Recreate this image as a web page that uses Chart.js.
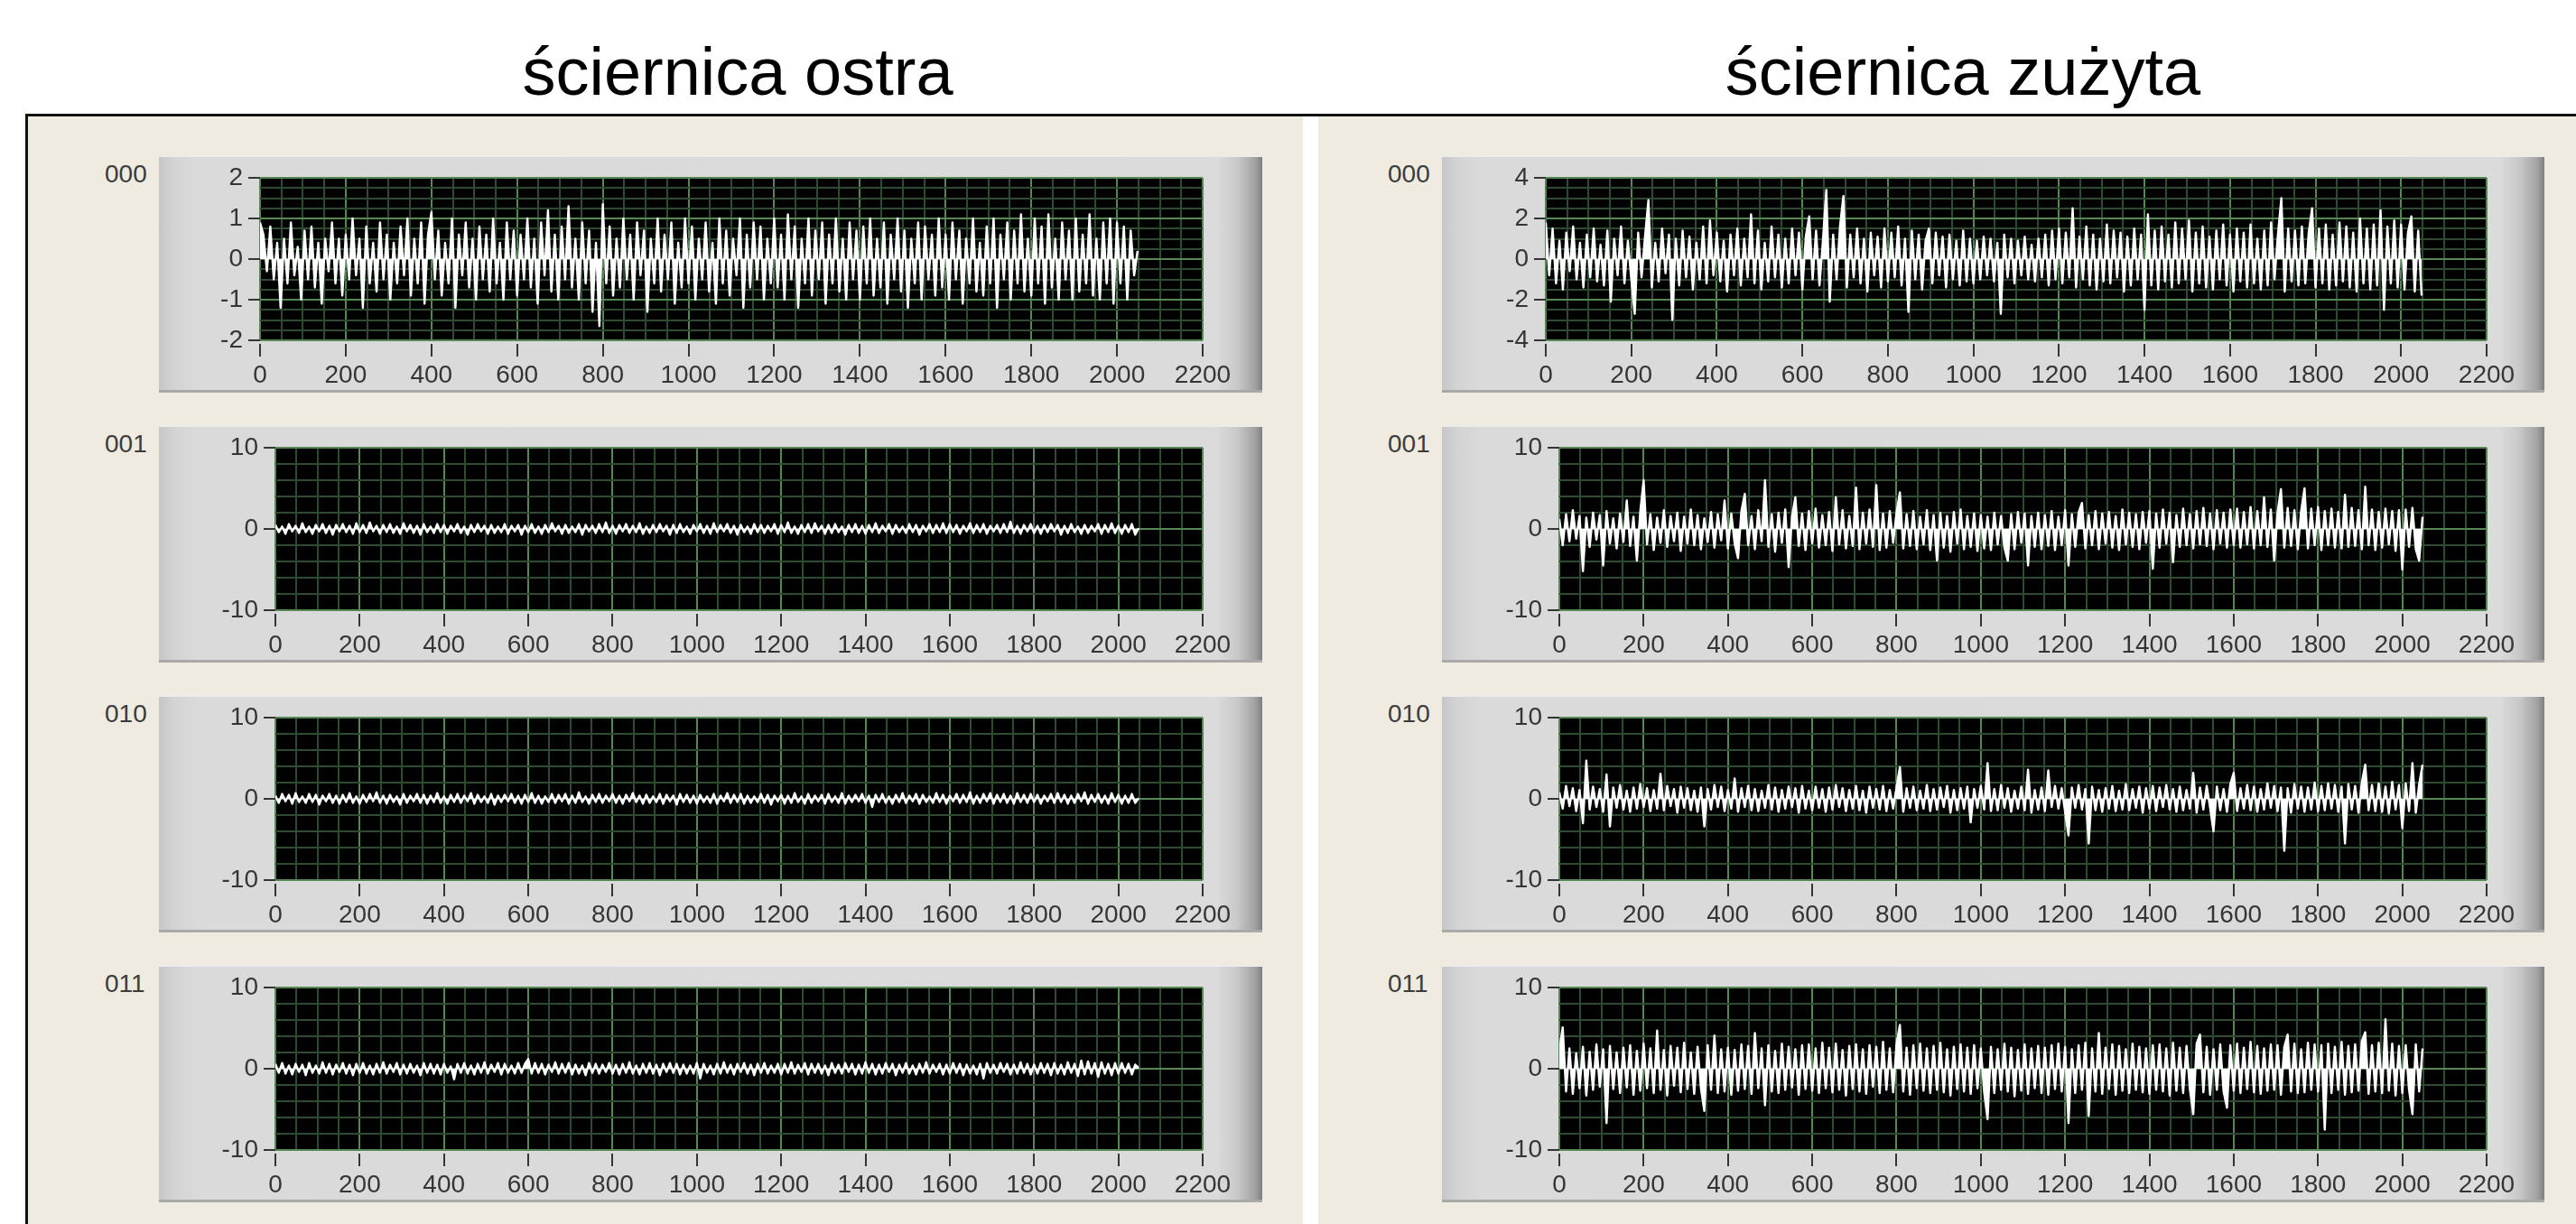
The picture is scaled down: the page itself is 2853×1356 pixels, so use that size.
<!DOCTYPE html>
<html lang="pl">
<head>
<meta charset="utf-8">
<title>ściernica ostra / ściernica zużyta</title>
<script src="https://cdn.jsdelivr.net/npm/chart.js@4.4.1/dist/chart.umd.min.js"></script>
<style>
  html, body { margin: 0; padding: 0; background: #fff; }
  body { width: 2853px; height: 1356px; position: relative; overflow: hidden; font-family: "Liberation Sans", Arial, sans-serif; }
  .title { position: absolute; top: 43px; font-size: 74px; line-height: 1; color: #000; transform: translateX(-50%); white-space: nowrap; }
  .rule { position: absolute; background: #111; }
  .panel { position: absolute; top: 129px; height: 1227px; background: #efebe0; }
  .scope {
    position: absolute; height: 263px; box-sizing: border-box;
    background: linear-gradient(to right, #c6c6c6 0px, #d3d3d3 16px, #dadada 44px, #dbdbdb calc(100% - 50px), #c9c9c9 calc(100% - 28px), #a2a2a2 calc(100% - 8px), #7f7f7f 100%);
    box-shadow: inset 0 2px 0 #ececec, inset 0 -3px 0 #a9a9a9;
  }
  .scope canvas { position: absolute; left: 0; top: 0; }
  .channel { position: absolute; font-size: 28px; line-height: 1; color: #3c3c3c; }
</style>
</head>
<body>
<div class="title" style="left:817px">ściernica ostra</div>
<div class="title" style="left:2174px">ściernica zużyta</div>
<div class="rule" style="left:28px;top:126px;width:2825px;height:3px"></div>
<div class="rule" style="left:28px;top:126px;width:3px;height:1230px"></div>
<div class="panel" style="left:31px;width:1412px"></div>
<div class="panel" style="left:1460px;width:1393px"></div>
<div id="scopes"></div>

<script>
// one value every 8 samples, 2048 samples per record
const sampleStep = 8;

const channelNames = ['000', '001', '010', '011'];
const xTickLabels = ['0', '200', '400', '600', '800', '1000', '1200', '1400', '1600', '1800', '2000', '2200'];
const sharpYTicks = [['-2', '-1', '0', '1', '2'], ['-10', '0', '10'], ['-10', '0', '10'], ['-10', '0', '10']];
const wornYTicks = [['-4', '-2', '0', '2', '4'], ['-10', '0', '10'], ['-10', '0', '10'], ['-10', '0', '10']];

// ściernica ostra
const sharp000 = [
  0.9, 0.6, -0.3, 0.8, -0.5, 0.4, -1.2, 0.5, -0.6, 0.9, -0.4, 0.3, -1.0, 0.7, -0.5, 0.8, -0.7, 0.4, -1.1, 0.5, -0.3, 0.9, -0.6, 0.5, -0.9,
  0.6, -0.5, 1.0, -0.4, 0.5, -1.2, 0.8, -0.6, 0.4, -0.8, 0.9, -0.5, 0.6, -1.0, 0.4, -0.6, 0.8, -0.4, 1.0, -0.9, 0.5, -0.6, 0.9, -1.1, 0.6,
  1.15, -0.5, 0.7, -0.9, 0.4, -0.6, 1.0, -1.2, 0.6, -0.4, 0.9, -0.7, 0.5, -1.0, 0.8, -0.5, 0.6, -0.8, 1.0, -0.6, 0.4, -1.0, 0.9, -0.5, 0.7,
  -0.9, 0.6, -0.5, 1.0, -0.7, 0.5, -1.1, 0.9, -0.4, 1.2, -0.8, 0.6, -1.0, 0.8, -0.5, 1.3, -0.7, 0.5, -1.0, 0.9, -0.6, 0.7, -1.3, 0.4, -1.65,
  1.35, -0.6, 0.8, -0.9, 0.5, -0.7, 1.0, -0.5, 0.6, -1.0, 0.9, -0.4, 0.7, -1.3, 0.5, -0.6, 1.0, -0.8, 0.6, -0.5, 0.9, -1.1, 0.4, -0.7, 1.0,
  -0.6, 0.8, -1.0, 0.5, -0.5, 0.9, -0.8, 0.4, -1.1, 1.0, -0.6, 0.7, -0.9, 0.5, -0.4, 1.0, -1.2, 0.6, -0.7, 0.9, -0.5, 0.8, -1.0, 0.5, -0.6,
  1.0, -0.7, 0.6, -1.0, 1.1, -0.5, 0.8, -1.2, 0.5, -0.6, 1.0, -0.9, 0.7, -0.5, 0.9, -1.1, 0.6, -0.6, 1.0, -0.8, 0.5, -1.0, 0.9, -0.5, 0.7,
  -1.0, 0.8, -0.6, 1.0, -0.9, 0.5, -0.7, 0.9, -1.1, 0.6, -0.5, 1.0, -0.8, 0.7, -1.2, 0.5, -0.6, 0.9, -1.0, 0.8, -0.5, 0.6, -0.9, 1.0, -0.7,
  0.6, -1.0, 0.9, -0.5, 0.7, -1.1, 0.5, -0.6, 1.0, -0.8, 0.4, -0.9, 0.8, -0.6, 1.0, -1.2, 0.6, -0.5, 0.9, -1.0, 0.7, -0.6, 1.1, -0.8, 0.5,
  -0.9, 1.0, -0.6, 0.8, -1.1, 1.1, -0.7, 0.5, -1.0, 0.9, -0.5, 0.7, -1.0, 1.0, -0.8, 0.6, -0.6, 1.1, -0.9, 0.5, -1.0, 0.9, -0.6, 1.0, -1.1,
  0.9, -0.6, 0.8, -1.0, 0.7, -0.4, 0.2
];
const sharp001 = [
  0.5, -0.4, 0.3, -0.6, 0.6, -0.3, 0.4, -0.5, 0.7, -0.4, 0.3, -0.6, 0.5, -0.3, 0.6, -0.5, 0.4, -0.7, 0.5, -0.3, 0.6, -0.4, 0.4, -0.6, 0.7,
  -0.4, 0.5, -0.5, 0.8, -0.3, 0.4, -0.6, 0.5, -0.4, 0.6, -0.5, 0.3, -0.6, 0.7, -0.3, 0.5, -0.5, 0.4, -0.7, 0.6, -0.4, 0.3, -0.5, 0.6, -0.4,
  0.5, -0.6, 0.4, -0.3, 0.6, -0.5, 0.3, -0.7, 0.5, -0.4, 0.6, -0.3, 0.4, -0.6, 0.5, -0.5, 0.3, -0.4, 0.6, -0.6, 0.4, -0.3, 0.5, -0.7, 0.4,
  -0.4, 0.6, -0.5, 0.3, -0.6, 0.5, -0.4, 0.7, -0.3, 0.4, -0.6, 0.5, -0.5, 0.3, -0.4, 0.6, -0.7, 0.5, -0.3, 0.4, -0.5, 0.6, -0.4, 0.8, -0.5,
  0.4, -0.6, 0.5, -0.3, 0.6, -0.5, 0.4, -0.4, 0.7, -0.6, 0.3, -0.5, 0.5, -0.4, 0.6, -0.3, 0.4, -0.7, 0.5, -0.5, 0.6, -0.4, 0.3, -0.6, 0.5,
  -0.3, 0.6, -0.5, 0.4, -0.6, 0.7, -0.4, 0.5, -0.3, 0.6, -0.5, 0.4, -0.7, 0.5, -0.4, 0.3, -0.6, 0.6, -0.4, 0.5, -0.5, 0.4, -0.3, 0.6, -0.6,
  0.5, -0.4, 0.8, -0.5, 0.3, -0.6, 0.5, -0.4, 0.6, -0.5, 0.7, -0.3, 0.4, -0.6, 0.5, -0.5, 0.6, -0.4, 0.3, -0.7, 0.5, -0.4, 0.6, -0.5, 0.4,
  -0.6, 0.5, -0.4, 0.7, -0.5, 0.4, -0.3, 0.6, -0.6, 0.5, -0.4, 0.3, -0.5, 0.6, -0.4, 0.5, -0.7, 0.4, -0.3, 0.6, -0.5, 0.5, -0.4, 0.7, -0.5,
  0.6, -0.4, 0.5, -0.6, 0.4, -0.3, 0.7, -0.5, 0.5, -0.4, 0.6, -0.6, 0.4, -0.3, 0.5, -0.5, 0.6, -0.4, 0.9, -0.5, 0.4, -0.6, 0.5, -0.3, 0.6,
  -0.5, 0.4, -0.6, 0.5, -0.4, 0.6, -0.3, 0.5, -0.7, 0.4, -0.5, 0.6, -0.4, 0.3, -0.6, 0.5, -0.5, 0.4, -0.3, 0.6, -0.6, 0.5, -0.4, 0.7, -0.5,
  0.4, -0.6, 0.5, -0.4, 0.6, -0.7, 0.1
];
const sharp010 = [
  0.4, -0.5, 0.6, -0.3, 0.5, -0.6, 0.7, -0.4, 0.3, -0.5, 0.6, -0.4, 0.5, -0.7, 0.4, -0.3, 0.6, -0.5, 0.4, -0.6, 0.5, -0.4, 0.7, -0.5, 0.3,
  -0.6, 0.5, -0.4, 0.6, -0.3, 0.8, -0.5, 0.4, -0.6, 0.5, -0.4, 0.3, -0.7, 0.6, -0.5, 0.4, -0.3, 0.6, -0.5, 0.5, -0.6, 0.4, -0.4, 0.7, -0.5,
  0.3, -0.6, 0.5, -0.4, 0.6, -0.5, 0.4, -0.3, 0.7, -0.6, 0.5, -0.4, 0.3, -0.5, 0.6, -0.7, 0.4, -0.4, 0.5, -0.3, 0.6, -0.5, 0.4, -0.6, 0.5,
  -0.4, 0.7, -0.5, 0.4, -0.6, 0.3, -0.4, 0.6, -0.5, 0.5, -0.3, 0.6, -0.6, 0.4, -0.5, 0.8, -0.4, 0.3, -0.6, 0.5, -0.4, 0.6, -0.5, 0.4, -0.3,
  0.6, -0.5, 0.4, -0.6, 0.5, -0.3, 0.7, -0.4, 0.4, -0.6, 0.5, -0.5, 0.3, -0.4, 0.6, -0.6, 0.5, -0.3, 0.4, -0.7, 0.6, -0.4, 0.5, -0.5, 0.4,
  -0.6, 0.5, -0.4, 0.3, -0.5, 0.6, -0.6, 0.4, -0.3, 0.7, -0.5, 0.5, -0.4, 0.6, -0.6, 0.4, -0.5, 0.3, -0.4, 0.6, -0.5, 0.5, -0.7, 0.4, -0.3,
  0.5, -0.6, 0.4, -0.5, 0.7, -0.4, 0.3, -0.6, 0.6, -0.5, 0.4, -0.3, 0.5, -0.6, 0.6, -0.4, 0.3, -0.5, 0.7, -0.6, 0.4, -0.4, 0.5, -0.3, 0.6,
  -0.5, 0.4, -1.0, 0.5, -0.4, 0.6, -0.5, 0.3, -0.6, 0.5, -0.4, 0.7, -0.5, 0.4, -0.3, 0.6, -0.6, 0.5, -0.4, 0.3, -0.5, 0.7, -0.4, 0.5, -0.6,
  0.4, -0.3, 0.6, -0.5, 0.5, -0.4, 0.8, -0.6, 0.4, -0.5, 0.6, -0.3, 0.7, -0.6, 0.5, -0.4, 0.6, -0.5, 0.4, -0.6, 0.7, -0.4, 0.5, -0.5, 0.6,
  -0.4, 0.5, -0.6, 0.4, -0.3, 0.6, -0.5, 0.7, -0.4, 0.5, -0.6, 0.4, -0.5, 0.6, -0.3, 0.8, -0.6, 0.5, -0.4, 0.6, -0.5, 0.4, -0.6, 0.7, -0.4,
  0.5, -0.6, 0.4, -0.5, 0.6, -0.5, 0.1
];
const sharp011 = [
  0.6, -0.5, 0.7, -0.6, 0.4, -0.7, 0.6, -0.4, 0.5, -0.8, 0.7, -0.5, 0.4, -0.6, 0.8, -0.5, 0.6, -0.7, 0.5, -0.4, 0.7, -0.6, 0.5, -0.8, 0.6,
  -0.5, 0.7, -0.6, 0.4, -0.7, 0.6, -0.5, 0.8, -0.6, 0.5, -0.4, 0.7, -0.7, 0.5, -0.6, 0.6, -0.5, 0.4, -0.8, 0.7, -0.5, 0.6, -0.6, 0.5, -0.7,
  0.6, -0.5, 0.3, -1.3, 0.6, -0.5, 0.7, -0.6, 0.4, -0.7, 0.6, -0.5, 0.8, -0.6, 0.5, -0.4, 0.7, -0.7, 0.6, -0.5, 0.4, -0.6, 0.7, -0.5, 0.6,
  1.2, -0.6, 0.7, -0.5, 0.6, -0.7, 0.5, -0.4, 0.8, -0.6, 0.6, -0.5, 0.7, -0.7, 0.5, -0.6, 0.4, -0.8, 0.7, -0.5, 0.6, -0.6, 0.5, -0.4, 0.7,
  -0.6, 0.5, -0.7, 0.6, -0.5, 0.8, -0.6, 0.4, -0.7, 0.6, -0.5, 0.7, -0.6, 0.5, -0.8, 0.6, -0.4, 0.7, -0.5, 0.6, -0.7, 0.5, -0.6, 0.4, -0.6,
  0.7, -1.2, 0.6, -0.5, 0.4, -0.7, 0.6, -0.6, 0.8, -0.5, 0.5, -0.7, 0.6, -0.4, 0.7, -0.6, 0.5, -0.8, 0.6, -0.5, 0.7, -0.6, 0.4, -0.5, 0.6,
  -0.7, 0.6, -0.5, 0.8, -0.6, 0.5, -0.4, 0.7, -0.7, 0.6, -0.5, 0.6, -0.6, 0.4, -0.8, 0.7, -0.5, 0.5, -0.6, 0.7, -0.4, 0.6, -0.7, 0.5, -0.6,
  0.8, -0.5, 0.6, -0.7, 0.5, -0.6, 0.7, -0.4, 0.6, -0.8, 0.5, -0.5, 0.7, -0.6, 0.4, -0.7, 0.6, -0.5, 0.8, -0.6, 0.5, -0.4, 0.6, -0.7, 0.5,
  -0.6, 0.7, -0.5, 0.6, -0.8, 0.5, -0.6, 0.4, -0.7, 0.6, -1.2, 0.7, -0.5, 0.5, -0.6, 0.7, -0.4, 0.6, -0.7, 0.5, -0.6, 0.8, -0.5, 0.6, -0.7,
  0.5, -0.6, 0.7, -0.5, 0.6, -0.8, 0.7, -0.6, 0.5, -0.7, 0.8, -0.5, 0.6, -0.9, 1.0, -0.7, 0.9, -0.6, 0.7, -1.0, 0.8, -0.6, 0.6, -0.8, 0.7,
  -0.6, 0.7, -0.5, 0.6, -0.7, 0.5, 0.1
];

// ściernica zużyta
const worn000 = [
  1.8, -0.8, 1.5, -1.2, 0.9, -1.5, 1.3, -0.6, 1.6, -1.0, 0.8, -1.4, 1.2, -0.9, 1.5, -1.1, 0.7, -1.3, 1.4, -2.1, 1.0, -0.8, 1.6, -1.2, 0.9,
  -1.0, -2.7, 1.3, -0.9, 1.1, 2.9, -1.4, 0.8, -1.1, 1.5, -0.7, 1.2, -3.0, 1.0, -1.3, 1.4, -0.9, 1.1, -1.5, 0.8, -1.0, 1.6, -1.2, 1.9, -0.8,
  1.3, -1.1, 0.9, -1.6, 1.2, -0.8, 1.5, -1.3, 1.0, -0.9, 2.2, -1.2, 1.4, -1.5, 0.8, -1.1, 1.6, -0.9, 1.2, -1.4, 1.0, -1.2, 1.5, -0.8, 1.3,
  -1.5, 1.1, 2.1, -1.0, 1.4, -1.3, 0.9, 3.4, -2.1, 1.2, -1.0, 1.6, 3.1, -1.4, 1.2, -0.9, 1.5, -1.2, 1.0, -1.6, 1.3, -0.8, 1.1, -1.4, 1.5,
  -1.1, 1.3, -0.9, 1.6, -1.3, 1.0, -2.6, 1.4, -1.0, 1.2, -1.5, 0.9, 1.5, -1.2, 1.3, -0.8, 1.1, -1.4, 1.2, -1.0, 0.9, -1.3, 1.4, -1.1, 1.0,
  -1.2, 0.9, -1.0, 1.1, -0.8, 1.0, -1.1, 0.8, -2.7, 1.2, -0.9, 1.0, -1.2, 0.9, -0.8, 1.1, -1.0, 0.7, -1.1, 1.0, -0.9, 1.2, -1.3, 1.4, -1.0,
  1.5, -1.2, 1.3, -0.9, 2.5, -1.4, 1.1, -1.0, 1.6, -1.3, 1.2, -1.5, 1.0, -1.1, 1.7, -1.2, 1.4, -0.9, 1.3, -1.6, 1.1, -1.3, 1.5, -1.0, 1.2,
  -2.5, 2.2, -1.3, 1.4, -1.5, 1.6, -1.1, 1.2, -1.4, 1.8, -1.2, 1.5, -1.0, 1.9, -1.6, 1.3, -1.2, 1.6, -1.4, 1.1, -1.5, 1.4, -1.0, 1.7, -1.3,
  1.2, -1.6, 1.5, -1.1, 1.3, -1.4, 1.7, -1.2, 1.0, -1.5, 1.4, -1.3, 1.8, -1.0, 1.2, 3.0, -1.6, 1.5, -1.1, 1.4, -1.3, 1.6, -1.2, 1.3, 2.5,
  -1.4, 1.5, -1.2, 1.7, -1.5, 1.2, -1.3, 1.8, -1.1, 1.6, -1.4, 1.3, -1.6, 2.0, -1.2, 1.5, -1.5, 1.7, -1.3, 2.4, -2.5, 1.6, -1.2, 1.9, -1.4,
  1.7, -1.5, 1.3, 2.1, -1.6, 1.4, -1.8
];
const worn001 = [
  1.2, -2.0, 1.8, -1.5, 2.3, -1.2, 1.6, -5.2, 1.4, -2.2, 2.0, -1.3, 1.7, -4.5, 2.2, -1.8, 1.3, -2.4, 1.9, -1.6, 3.5, -2.1, 1.5, -3.9, 2.1,
  6.0, -1.9, 1.8, -2.6, 1.4, -1.7, 2.3, -2.2, 1.6, -1.5, 2.0, -2.7, 1.5, -1.8, 2.4, -2.0, 1.7, -2.5, 1.3, -1.6, 2.1, -2.3, 1.8, -1.4, 3.5,
  -2.4, 1.9, -1.8, -3.6, 2.2, 4.3, -2.0, 1.6, -2.5, 2.3, -1.5, 6.0, -2.2, 1.8, -2.8, 2.0, -1.7, 2.4, -4.7, 1.5, 3.9, -2.1, 1.9, -2.6, 2.2,
  -1.8, 2.5, -2.3, 1.7, -2.0, 2.1, -2.7, 3.9, -1.9, 2.3, -2.4, 1.6, -2.1, 5.1, -2.5, 2.0, -1.8, 2.4, -2.2, 5.4, -2.6, 1.9, -2.3, 2.2, -1.7,
  2.0, 4.5, -2.4, 1.8, -2.1, 2.2, -2.5, 1.5, -1.9, 2.3, -2.6, 1.7, -3.9, 2.0, -2.3, 1.6, -2.8, 2.1, -1.8, 2.4, -2.5, 1.6, -2.2, 1.9, -2.7,
  1.7, -2.4, 1.5, -2.6, 2.0, -1.9, 1.6, -2.3, -3.9, 1.8, -2.5, 2.1, -1.7, 1.9, -4.5, 1.6, -2.2, 2.0, -2.5, 1.7, -2.1, 2.2, -2.6, 1.5, -2.0,
  2.3, -4.5, 1.8, -2.2, 2.0, 3.2, -2.4, 1.7, -2.0, 2.2, -2.5, 1.9, -1.8, 2.1, -2.3, 1.6, -2.6, 2.4, -1.9, 2.0, -2.2, 1.8, -2.5, 2.1, -1.7,
  2.2, -4.9, 1.9, -2.3, 2.4, -1.8, 2.0, -4.1, 1.7, -2.2, 2.5, -2.0, 1.8, -2.4, 2.2, -1.9, 2.6, -2.1, 1.9, -2.5, 2.3, -1.8, 2.0, -2.3, 2.4,
  -2.0, 2.5, -2.3, 2.1, -1.9, 2.7, -2.4, 2.2, -2.0, 3.9, -2.2, 2.4, -3.9, 2.0, 4.9, -2.3, 2.6, -2.1, 2.3, -2.5, 2.2, 5.0, -2.4, 2.5, -2.0,
  2.7, -2.6, 2.2, -2.0, 2.5, -2.3, 2.1, -2.4, 4.2, -2.2, 2.6, -2.1, 2.3, -2.5, 5.2, -2.0, 2.4, -2.6, 2.1, -2.3, 2.5, -1.9, 2.2, -2.7, 2.3,
  -5.0, 2.4, -2.2, 2.6, -2.5, -3.9, 1.5
];
const worn010 = [
  0.8, -1.2, 1.6, -0.9, 1.3, -1.5, 1.1, -3.0, 4.7, -1.3, 1.5, -1.0, 1.2, -1.6, 3.0, -3.4, 1.4, -1.1, 1.7, -1.3, 1.0, -1.6, 1.4, -1.2, 1.8,
  -1.0, 1.3, -1.5, 1.1, -1.2, 3.1, -1.4, 1.6, -0.9, 1.2, -1.7, 1.5, -1.1, 1.3, -1.4, 1.0, -1.6, 1.4, -3.4, 1.2, -1.3, 1.7, -1.0, 1.5, -1.5,
  1.1, -1.2, 2.5, -1.6, 1.3, -1.0, 1.6, -1.4, 1.2, -1.5, 1.0, -1.1, 1.7, -1.3, 1.4, -1.6, 1.1, -1.2, 1.5, -1.0, 1.3, -1.7, 1.6, -1.2, 1.0,
  -1.4, 1.5, -1.1, 1.2, -1.6, 1.4, -1.3, 1.7, -1.0, 1.3, -1.5, 1.1, -1.2, 1.6, -1.4, 1.0, -1.7, 1.5, -1.1, 1.2, -1.3, 1.6, -1.5, 1.1, -1.2,
  1.4, 3.9, -1.6, 1.3, -1.1, 1.5, -1.4, 1.0, -1.2, 1.7, -1.5, 1.2, -1.3, 1.4, -1.0, 1.6, -1.7, 1.1, -1.4, 1.3, -1.2, 1.5, -2.9, 1.2, -1.1,
  1.6, -1.3, 4.4, -1.5, 1.2, -1.4, 1.7, -1.1, 1.3, -1.6, 1.0, -1.2, 1.5, -1.4, 3.6, -1.7, 1.1, -1.3, 1.4, -1.5, 3.5, -1.0, 1.6, -1.2, 1.3,
  -1.6, -4.5, 1.4, -1.1, 1.7, -1.3, 1.2, -5.5, 1.5, -1.4, 1.1, -1.6, 1.3, -1.2, 1.6, -1.5, 1.0, -1.3, 1.8, -1.4, 1.2, -1.1, 1.5, -1.7, 1.3,
  -1.2, 1.6, -1.5, 1.4, -1.0, 1.7, -1.3, 1.2, -1.6, 1.5, -1.4, 1.1, -1.2, 3.2, -1.7, 1.4, -1.3, 1.6, -1.1, -4.0, 1.5, -1.4, 1.2, -1.6, 1.8,
  3.2, -1.5, 1.3, -1.2, 1.7, -1.4, 1.5, -1.6, 1.2, -1.3, 1.9, -1.1, 1.6, -1.5, 1.4, -6.4, 1.3, -1.7, 1.8, -1.2, 1.5, -1.6, 1.4, -1.3, 2.0,
  -1.5, 1.6, -1.4, 1.9, -1.2, 1.7, -1.6, 1.5, -5.5, 1.8, -1.3, 1.6, -1.7, 2.0, 4.2, -1.4, 1.7, -1.5, 1.9, -1.6, 1.5, -1.8, 2.1, -1.3, 1.7,
  -3.6, 1.9, -1.5, 4.4, -1.7, 1.8, 4.2
];
const worn011 = [
  2.2, 5.1, -2.8, 2.5, -3.1, 1.9, -2.4, 2.7, -3.3, 2.1, -2.6, 3.0, -2.2, 2.4, -6.7, 2.8, -2.5, 2.0, -3.0, 2.6, -2.3, 2.9, -3.2, 2.2, -2.7,
  3.1, -2.4, 2.5, -3.0, 4.7, -2.6, 2.3, -3.3, 2.8, -2.1, 2.6, -2.9, 3.2, -2.5, 2.0, -3.1, 2.7, -2.4, -5.2, 2.9, -2.6, 4.1, -3.0, 2.4, -2.8,
  2.6, -3.2, 2.3, -2.7, 3.0, -2.5, 2.8, -3.1, 4.4, -2.4, 2.5, -4.5, 2.9, -2.8, 2.2, -3.0, 3.1, -2.6, 2.7, -2.3, 2.4, -3.2, 2.9, -2.5, 3.0,
  -2.7, 2.5, -3.0, 3.2, -2.4, 2.6, -2.9, 3.1, -2.6, 2.3, -3.3, 2.8, -2.5, 3.0, -2.8, 2.4, -3.1, 2.9, -2.2, 2.7, -3.0, 3.3, -2.6, 2.5, -2.9,
  3.0, 5.4, -2.8, 2.6, -3.2, 2.9, -2.4, 3.1, -2.7, 2.5, -3.0, 2.8, -2.6, 3.2, -2.9, 2.4, -3.3, 2.7, -2.5, 3.0, -2.8, 2.6, -3.1, 2.9, -2.4,
  2.5, -2.9, -6.2, 2.7, -3.0, 2.4, -2.6, 3.1, -2.8, 2.6, -3.4, 2.3, -2.7, 3.0, -3.1, 2.5, -2.4, 2.8, -3.0, 2.6, -3.2, 2.9, -2.5, 3.1, -2.8,
  2.7, -6.7, 2.4, -3.0, 2.9, -2.6, 3.2, -5.8, 2.5, -2.8, 4.4, -3.1, 2.6, -2.5, 3.0, -3.2, 2.8, -2.7, 2.4, -3.0, 3.1, -2.6, 2.7, -2.9, 2.5,
  -3.1, 2.9, -2.6, 3.0, -2.8, 2.5, -3.3, 3.2, -2.7, 2.6, -3.0, 2.8, -2.5, -5.6, 3.1, 4.2, -2.9, 2.7, -3.2, 2.4, -2.6, 3.0, -2.8, -4.8, 2.9,
  -2.7, 3.1, -3.0, 2.6, -2.5, 3.3, -2.9, 2.8, -3.1, 2.5, -2.7, 3.0, -2.6, 2.9, -3.2, 2.7, 4.2, -2.8, 3.1, -3.0, 2.4, -2.9, 3.2, -2.6, 3.0,
  -2.8, 2.9, -7.5, 3.1, -3.0, 2.7, -2.6, 3.3, -3.2, 2.8, -2.9, 3.0, -2.7, 3.4, 4.5, -3.1, 2.9, -2.8, 3.2, -3.0, 6.1, -2.7, 3.1, -3.3, 2.8,
  -3.0, 2.9, -2.6, -5.6, 3.0, -2.8, 2.5
];

const sharpSeries = [sharp000, sharp001, sharp010, sharp011];
const wornSeries = [worn000, worn001, worn010, worn011];

// scope layout (pixels)
const frameTops = [172, 471, 770, 1069];
const frameHeight = 263;
const plotTop = 25;
const plotHeight = 180;
const columns = [
  { frameLeft: 176, width: 1222, labelLeft: 116, rightSpace: 66, plotLefts: [112, 129, 129, 129], series: sharpSeries, yTicks: sharpYTicks },
  { frameLeft: 1597, width: 1221, labelLeft: 1537, rightSpace: 64, plotLefts: [115, 130, 130, 130], series: wornSeries, yTicks: wornYTicks }
];
// minor grid spacing for a given full-scale value
const minorStepFor = { 2: 0.25, 4: 0.5, 10: 2 };

const tickFont = { family: '"Liberation Sans", Arial, sans-serif', size: 28 };
const textColor = '#353535';
const gridMajor = 'rgb(86,136,86)';
const gridMinor = 'rgb(46,74,48)';

// black plot area of the scope
const scopeBackground = {
  id: 'scopeBackground',
  beforeDraw(chart) {
    const { ctx, chartArea: a } = chart;
    ctx.save();
    ctx.fillStyle = '#000';
    ctx.fillRect(a.left, a.top, a.right - a.left, a.bottom - a.top);
    ctx.restore();
  }
};

const xMajor = new Set(xTickLabels.map(Number));

function makeScope(holder, values, yLabels, plotLeft, rightSpace, width) {
  const canvas = document.createElement('canvas');
  canvas.width = width;
  canvas.height = frameHeight;
  holder.appendChild(canvas);

  const yMajor = new Set(yLabels.map(Number));
  const limit = Math.max(...yLabels.map(Number));

  new Chart(canvas, {
    type: 'line',
    data: {
      datasets: [{
        data: values.map((v, i) => ({ x: i * sampleStep, y: v })),
        borderColor: '#ffffff',
        backgroundColor: '#ffffff',
        borderWidth: 2.4,
        borderJoinStyle: 'round',
        pointRadius: 0,
        tension: 0,
        // the trace is dense enough to read as a solid band around zero
        fill: 'origin'
      }]
    },
    options: {
      responsive: false,
      animation: false,
      events: [],
      layout: { padding: { top: plotTop, right: rightSpace, left: 0, bottom: 0 } },
      plugins: { legend: { display: false }, tooltip: { enabled: false } },
      scales: {
        x: {
          type: 'linear',
          min: 0,
          max: 2200,
          border: { display: false },
          ticks: {
            stepSize: 50,
            autoSkip: false,
            maxRotation: 0,
            minRotation: 0,
            padding: 4,
            color: textColor,
            font: tickFont,
            callback: v => xMajor.has(v) ? String(v) : ''
          },
          grid: {
            color: c => c.tick && xMajor.has(c.tick.value) ? gridMajor : gridMinor,
            lineWidth: 2,
            tickLength: 18,
            tickWidth: 2,
            tickColor: c => c.tick && xMajor.has(c.tick.value) ? textColor : 'rgba(0,0,0,0)',
            tickBorderDash: [0, 4, 14, 40]
          },
          afterFit: s => { s.height = frameHeight - plotTop - plotHeight; }
        },
        y: {
          type: 'linear',
          min: -limit,
          max: limit,
          border: { display: false },
          ticks: {
            stepSize: minorStepFor[limit],
            autoSkip: false,
            padding: 3,
            color: textColor,
            font: tickFont,
            callback: v => yMajor.has(v) ? String(v) : ''
          },
          grid: {
            color: c => c.tick && yMajor.has(c.tick.value) ? gridMajor : gridMinor,
            lineWidth: 2,
            tickLength: 16,
            tickWidth: 2,
            tickColor: c => c.tick && yMajor.has(c.tick.value) ? textColor : 'rgba(0,0,0,0)',
            tickBorderDash: [0, 3, 13, 40]
          },
          afterFit: s => { s.width = plotLeft; }
        }
      }
    },
    plugins: [scopeBackground]
  });
}

const root = document.getElementById('scopes');
columns.forEach(col => {
  col.series.forEach((values, k) => {
    const label = document.createElement('div');
    label.className = 'channel';
    label.style.left = col.labelLeft + 'px';
    label.style.top = (frameTops[k] + 7) + 'px';
    label.textContent = channelNames[k];
    root.appendChild(label);

    const holder = document.createElement('div');
    holder.className = 'scope';
    holder.style.left = col.frameLeft + 'px';
    holder.style.top = frameTops[k] + 'px';
    holder.style.width = col.width + 'px';
    root.appendChild(holder);

    makeScope(holder, values, col.yTicks[k], col.plotLefts[k], col.rightSpace, col.width);
  });
});
</script>
</body>
</html>
